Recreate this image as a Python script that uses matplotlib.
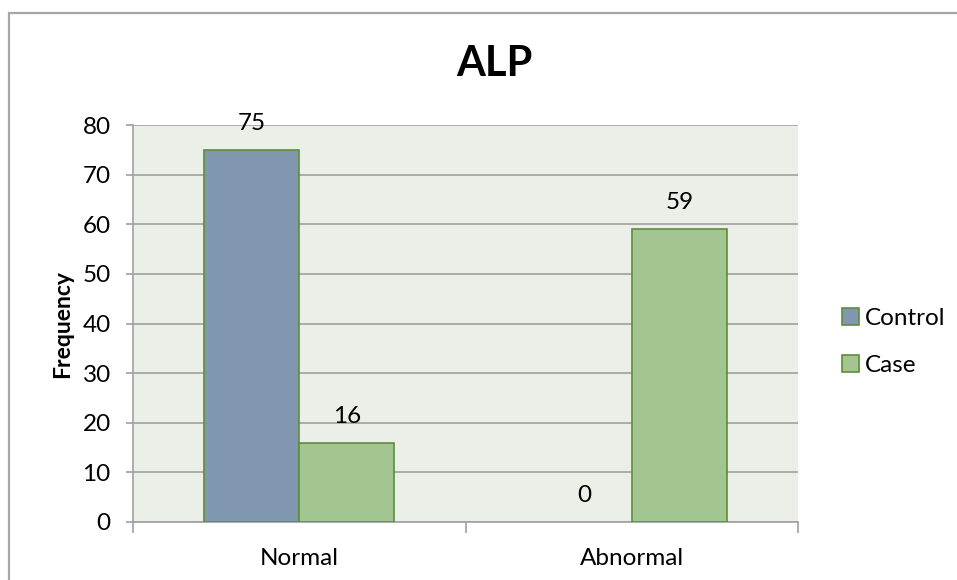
import matplotlib
matplotlib.use("Agg")
import matplotlib.pyplot as plt
from matplotlib.patches import Rectangle
import numpy as np

categories = ["Normal", "Abnormal"]
series_names = ["Control", "Case"]
control_values = [75, 0]
case_values = [16, 59]
y_ticks = [0, 10, 20, 30, 40, 50, 60, 70, 80]
title = "ALP"
ylabel = "Frequency"

plt.rcParams['font.family'] = ['Lato', 'DejaVu Sans']

W, H = 957, 580
fig = plt.figure(figsize=(W / 100, H / 100), dpi=100)

# outer chart border
fig.patches.append(Rectangle((9 / W, -0.1), 1.2, (H - 12.5) / H + 0.1,
                             transform=fig.transFigure, fill=False,
                             edgecolor="#A6A6A6", linewidth=1.6))

ax = fig.add_axes([133 / W, (H - 522) / H, 665 / W, 397 / H])
ax.set_facecolor("#EAEFE7")

x = np.arange(len(categories))
bw = 0.286
ctrl_col = "#8196AF"
case_col = "#A2C591"
edge_col = "#5F8D3B"
FS = 17.5

b1 = ax.bar(x - bw / 2, control_values, bw, color=ctrl_col, edgecolor=edge_col,
            linewidth=1.2, label=series_names[0], zorder=3)
b2 = ax.bar(x + bw / 2, case_values, bw, color=case_col, edgecolor=edge_col,
            linewidth=1.2, label=series_names[1], zorder=3)

for bars in (b1, b2):
    for rect in bars:
        v = rect.get_height()
        if v == 0:
            rect.set_linewidth(0)
        ax.annotate(f"{v:g}", (rect.get_x() + rect.get_width() / 2, v),
                    xytext=(0, 19), textcoords="offset points",
                    ha="center", va="center", fontsize=FS, color="#000000")

ax.set_xlim(-0.5, len(categories) - 0.5)
ax.set_ylim(0, 80)
ax.set_yticks(y_ticks)
ax.yaxis.grid(True, color="#A0A0A0", linewidth=1.2, zorder=0)
ax.set_axisbelow(True)

for s in ("top", "right"):
    ax.spines[s].set_visible(False)
for s in ("left", "bottom"):
    ax.spines[s].set_color("#A0A0A0")
    ax.spines[s].set_linewidth(1.2)

ax.tick_params(axis="y", length=5, width=1.2, color="#A0A0A0", pad=11,
               labelsize=FS, labelcolor="#000000")
ax.set_xticks(x)
ax.set_xticklabels(categories)
ax.set_xticks([-0.5, 0.5, 1.5], minor=True)
ax.tick_params(axis="x", which="major", length=0, pad=19, labelsize=FS,
               labelcolor="#000000")
ax.tick_params(axis="x", which="minor", length=8, width=1.2, color="#A0A0A0")

ax.set_ylabel(ylabel, fontsize=16.5, fontweight="bold", labelpad=7)

fig.text(494 / W, 1 - 64 / H, title, ha="center", va="center",
         fontsize=30, fontweight="bold")

ax.legend(loc="center left", bbox_to_anchor=(830 / W, 1 - 342 / H),
          bbox_transform=fig.transFigure, frameon=False, fontsize=FS,
          handlelength=0.68, handleheight=0.68, handletextpad=0.25,
          labelspacing=1.05, borderpad=0)

fig.savefig("out.png", dpi=100)
